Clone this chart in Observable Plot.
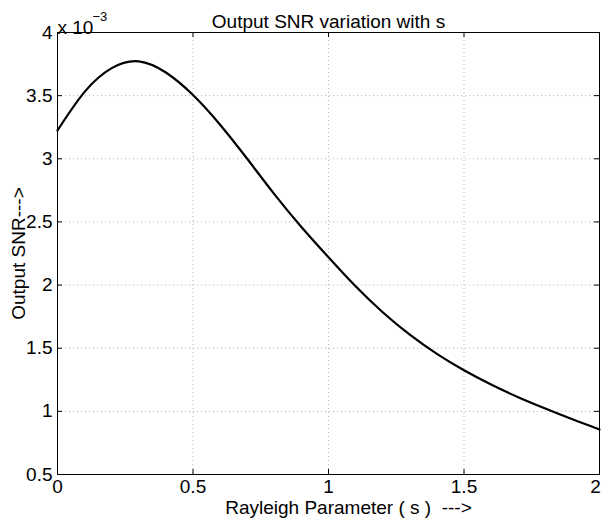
<!DOCTYPE html>
<html>
<head>
<meta charset="utf-8">
<script src="https://cdn.jsdelivr.net/npm/d3@7"></script>
<script src="https://cdn.jsdelivr.net/npm/@observablehq/plot@0.6"></script>
<style>
  html, body { margin: 0; padding: 0; background: #fff; }
  svg { font-family: "Liberation Sans", Arial, Helvetica, sans-serif; }
</style>
</head>
<body>
<div id="chart"></div>
<script>
// Rayleigh parameter s
const sValues = [0.0, 0.1, 0.2, 0.3, 0.4, 0.5, 0.6, 0.7, 0.8, 0.9, 1.0,
                 1.1, 1.2, 1.3, 1.4, 1.5, 1.6, 1.7, 1.8, 1.9, 2.0];
// Output SNR (x 10^-3)
const snrValues = [3.225, 3.53, 3.718, 3.772, 3.683, 3.505, 3.27, 3.00, 2.72, 2.46, 2.22,
                   1.99, 1.785, 1.607, 1.455, 1.325, 1.212, 1.112, 1.022, 0.937, 0.857];
const xTicks = [0, 0.5, 1, 1.5, 2];
const yTicks = [0.5, 1, 1.5, 2, 2.5, 3, 3.5, 4];
const titleText = "Output SNR variation with s";
const xLabel = "Rayleigh Parameter ( s )  --->";
const yLabel = "Output SNR--->";

const data = sValues.map((s, i) => ({s, snr: snrValues[i]}));

const W = 603, H = 529;
const mL = 57, mR = 4, mT = 32, mB = 55;
const innerW = W - mL - mR, innerH = H - mT - mB;
const tick = 5;
const font = 19;

const chart = Plot.plot({
  width: W,
  height: H,
  marginLeft: mL,
  marginRight: mR,
  marginTop: mT,
  marginBottom: mB,
  style: {fontFamily: '"Liberation Sans", Arial, Helvetica, sans-serif', background: "#fff"},
  x: {domain: [0, 2], ticks: xTicks},
  y: {domain: [0.5, 4], ticks: yTicks},
  marks: [
    Plot.gridX(xTicks, {stroke: "#b4b4b4", strokeOpacity: 1, strokeDasharray: "1,3"}),
    Plot.gridY(yTicks, {stroke: "#b4b4b4", strokeOpacity: 1, strokeDasharray: "1,3"}),
    // inward ticks on all four sides
    Plot.tickX(xTicks, {x: d => d, insetTop: innerH - tick, stroke: "#000"}),
    Plot.tickX(xTicks, {x: d => d, insetBottom: innerH - tick, stroke: "#000"}),
    Plot.tickY(yTicks, {y: d => d, insetRight: innerW - tick, stroke: "#000"}),
    Plot.tickY(yTicks, {y: d => d, insetLeft: innerW - tick, stroke: "#000"}),
    Plot.axisX(xTicks.slice(0, -1), {tickSize: 0, tickPadding: 5, fontSize: font, label: null, tickFormat: d => String(d), fill: "#000"}),
    Plot.axisX(xTicks.slice(-1), {tickSize: 0, tickPadding: 5, dx: -4, fontSize: font, label: null, tickFormat: d => String(d), fill: "#000"}),
    Plot.axisY(yTicks, {tickSize: 0, tickPadding: 5, fontSize: font, label: null, tickFormat: d => String(d), fill: "#000"}),
    Plot.line(data, {x: "s", y: "snr", stroke: "#000", strokeWidth: 2.2, curve: "natural"}),
    Plot.frame({stroke: "#000", strokeWidth: 1}),
    Plot.text([titleText], {frameAnchor: "top", dy: -18, fontSize: font, fill: "#000"}),
    Plot.text(["x 10"], {frameAnchor: "top-left", textAnchor: "start", dy: -12, dx: 0, fontSize: font, fill: "#000"}),
    Plot.text(["\u22123"], {frameAnchor: "top-left", textAnchor: "start", dy: -21, dx: 35, fontSize: 13, fill: "#000"}),
    Plot.text([xLabel], {frameAnchor: "bottom", dy: 39, dx: 20, fontSize: font, fill: "#000"}),
    Plot.text([yLabel], {frameAnchor: "left", textAnchor: "middle", dx: -39, dy: 0, rotate: -90, fontSize: font, fill: "#000"})
  ]
});
document.getElementById("chart").appendChild(chart);
</script>
</body>
</html>
